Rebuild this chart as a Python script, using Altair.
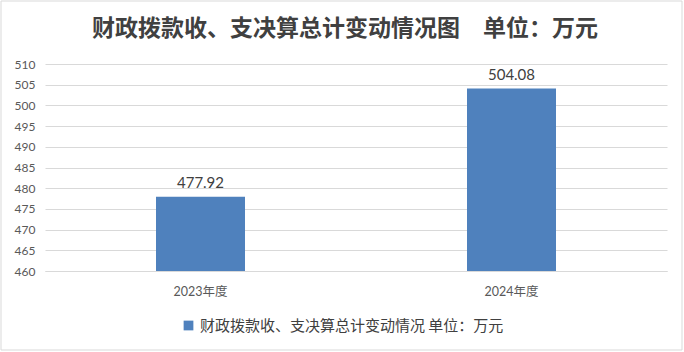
import altair as alt
import pandas as pd

categories = ["2023年度", "2024年度"]
values = [477.92, 504.08]
series_name = "财政拨款收、支决算总计变动情况 单位：万元"
title_text = "财政拨款收、支决算总计变动情况图\u3000单位：万元"

df = pd.DataFrame({"cat": categories, "val": values, "series": [series_name] * 2})

FONT = "Lato, Noto Sans CJK SC, sans-serif"
CJK = "Noto Sans CJK SC, sans-serif"

x_enc = alt.X("cat:N", sort=categories, title=None,
              scale=alt.Scale(paddingInner=0, paddingOuter=0),
              axis=alt.Axis(labelAngle=0, labelFont=FONT, labelFontSize=12.5, labelColor="#595959",
                            ticks=False, domainColor="#d9d9d9", labelPadding=14))
y_enc = alt.Y("val:Q", title=None,
              scale=alt.Scale(domain=[460, 510], zero=False, clamp=True, nice=False),
              axis=alt.Axis(values=list(range(460, 511, 5)), labelFont=FONT, labelFontSize=12,
                            labelColor="#595959", ticks=False, domain=False, labelOverlap=False,
                            gridColor="#d9d9d9", labelPadding=10))

base = alt.Chart(df)

bars = base.mark_bar(size=89, color="#4F81BD").encode(
    x=x_enc,
    y=y_enc,
    color=alt.Color("series:N", scale=alt.Scale(range=["#4F81BD"]), title=None,
                    legend=alt.Legend(orient="none", legendX=136, legendY=254,
                                      symbolType="square", symbolSize=95,
                                      labelFont=CJK, labelFontSize=15, labelColor="#404040",
                                      labelLimit=450, symbolStrokeWidth=0, labelOffset=4)),
)

labels = base.mark_text(dy=-14, font=FONT, fontSize=15, color="#404040").encode(
    x=x_enc,
    y=y_enc,
    text=alt.Text("val:Q", format=".2f"),
)

title_df = pd.DataFrame({"t": [title_text]})
title = alt.Chart(title_df).mark_text(font=CJK, fontSize=23, fontWeight="bold", color="#404040",
                                      baseline="alphabetic", align="center").encode(
    x=alt.value(300), y=alt.value(-28), text="t:N"
)

border = alt.Chart(title_df).mark_rect(fill=None, stroke="#d9d9d9", strokeWidth=1).encode(
    x=alt.value(-44), x2=alt.value(637), y=alt.value(-63), y2=alt.value(286)
)

chart = alt.layer(border, bars, labels, title).properties(
    width=622, height=207,
    padding={"left": 45, "top": 64, "right": 17, "bottom": 81},
    autosize=alt.AutoSizeParams(type="none"),
).configure_view(stroke=None)

chart.save("out.html", embed_options={"renderer": "svg", "actions": False})
